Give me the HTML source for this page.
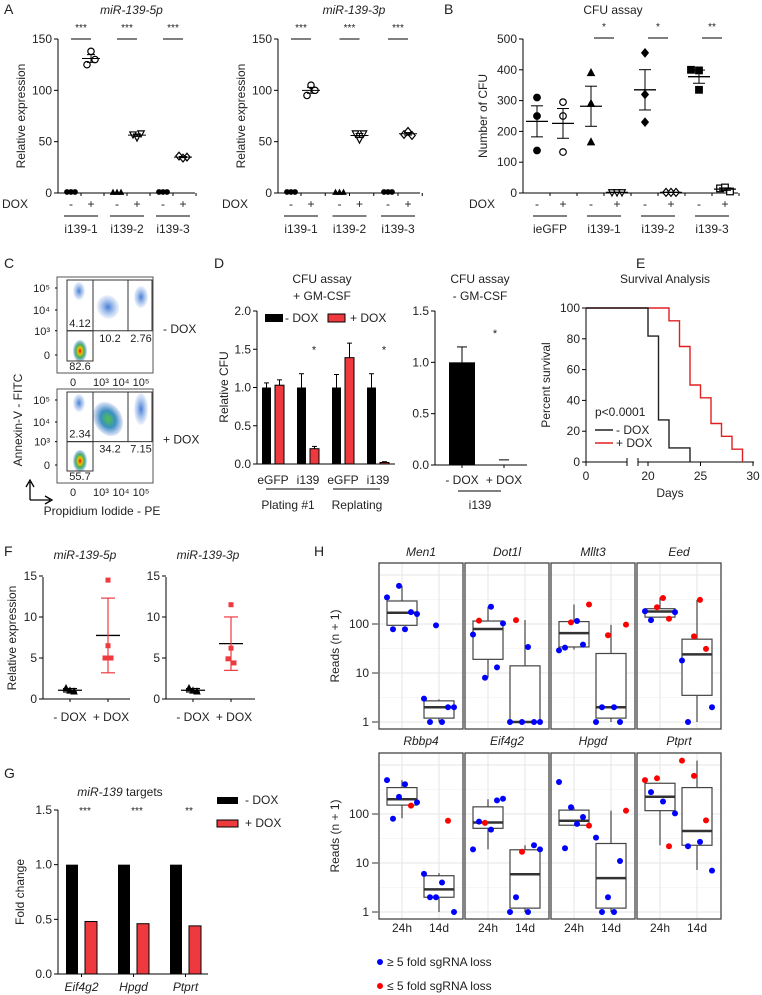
<!DOCTYPE html>
<html><head><meta charset="utf-8"><style>
html,body{margin:0;padding:0;background:#fff;}
svg{display:block;font-family:"Liberation Sans",Arial,sans-serif;}
</style></head><body>
<svg id="fig" width="762" height="995" viewBox="0 0 762 995" xmlns="http://www.w3.org/2000/svg">
<defs>
<radialGradient id="gHot" cx="50%" cy="50%" r="50%"><stop offset="0" stop-color="#e00000"/><stop offset="0.3" stop-color="#f0c000"/><stop offset="0.6" stop-color="#40b060"/><stop offset="1" stop-color="#3070d0" stop-opacity="0.2"/></radialGradient>
<radialGradient id="gGreen" cx="50%" cy="50%" r="50%"><stop offset="0" stop-color="#50c050"/><stop offset="0.5" stop-color="#3a90c0"/><stop offset="1" stop-color="#5080d0" stop-opacity="0.15"/></radialGradient>
<radialGradient id="gBlue" cx="50%" cy="50%" r="50%"><stop offset="0" stop-color="#3070d0" stop-opacity="0.9"/><stop offset="1" stop-color="#6090e0" stop-opacity="0.1"/></radialGradient>
</defs>
</svg>
<script>
// ---------- DATA ----------
const aGroups=['i139-1','i139-2','i139-3'];
const a5pMinus=[[1,1,1],[0.6,0.6,0.6],[1,1,1]];
const a5pPlus=[[125,138,130],[57,54,58],[36,34,35]];
const a3pMinus=[[1,1,1],[0.6,0.6,0.6],[1,1,1]];
const a3pPlus=[[95,105,100],[58,52,58],[57,60,56]];
const aStars=['***','***','***'];
const aTicks=[0,50,100,150];

const bGroups=['ieGFP','i139-1','i139-2','i139-3'];
const bMinus=[[310,250,138],[390,290,165],[455,320,230],[400,398,335]];
const bPlus=[[295,250,133],[2,2,2],[2,2,2],[15,18,5]];
const bStars=['','*','*','**'];
const bTicks=[0,100,200,300,400,500];

const dLabels=['eGFP','i139','eGFP','i139'];
const dMinus=[1,1,1,1];
const dMinusErr=[0.06,0.18,0.17,0.18];
const dPlus=[1.03,0.2,1.39,0.02];
const dPlusErr=[0.07,0.03,0.19,0.01];
const dStars=['','*','','*'];
const dTicks=[0,0.5,1,1.5,2];
const d2Labels=['- DOX','+ DOX'];
const d2Values=[1,0];
const d2Err=[0.15,0.05];
const d2Ticks=[0,0.5,1,1.5];

const eDaysMinus=[0,20,21,22,24];
const eSurvMinus=[100,81.8,27.3,9.1,0];
const eDaysPlus=[0,22,23,24,25,26,27,28,29];
const eSurvPlus=[100,91.7,75,50,41.7,25,16.7,8.3,0];
const eYTicks=[0,20,40,60,80,100];
const eXTicks=[0,20,25,30];

const f5pMinus=[1.3,1.0,0.9];
const f5pPlus=[14.5,6.5,5,5];
const f3pMinus=[1.3,1.0,0.9];
const f3pPlus=[11.5,6.2,4.9,4.4];
const fTicks=[0,5,10,15];

const gLabels=['Eif4g2','Hpgd','Ptprt'];
const gMinus=[1,1,1];
const gPlus=[0.48,0.46,0.44];
const gStars=['***','***','**'];
const gTicks=[0,0.5,1,1.5];

const hGenes=['Men1','Dot1l','Mllt3','Eed','Rbbp4','Eif4g2','Hpgd','Ptprt'];
const hBox24=[[94,170,295,94,600],[19,79,115,8,225],[34,65,112,30,250],[138,180,205,138,350],
 [152,200,346,82,490],[51,67,140,19,200],[59,73,120,59,137],[117,225,424,23,424]];
const hBox14=[[1.2,2,2.7,1,2.9],[1,1,14,1,120],[1.2,2,25,1,96],[3.5,24,49,1,310],
 [2,2.9,5.5,1,6.2],[1.2,5.9,18.6,1,23],[1.2,4.9,25,1,117],[23,45,346,7.2,1230]];
const hPts24=[
 [[350,'b'],[78,'b'],[600,'b'],[78,'b'],[175,'b'],[160,'b']],
 [[61,'b'],[117,'r'],[8,'b'],[225,'b'],[13,'b'],[103,'b']],
 [[29,'b'],[33,'b'],[108,'r'],[115,'b'],[38,'b'],[250,'r']],
 [[182,'b'],[120,'b'],[220,'r'],[340,'r'],[128,'r'],[175,'b']],
 [[490,'b'],[80,'b'],[223,'b'],[405,'b'],[148,'r'],[173,'b']],
 [[19,'b'],[70,'b'],[66,'r'],[48,'b'],[190,'b'],[205,'b']],
 [[450,'b'],[20,'b'],[137,'b'],[63,'b'],[87,'b'],[58,'r']],
 [[490,'r'],[280,'b'],[535,'r'],[180,'b'],[22,'r'],[103,'b']]];
const hPts14=[
 [[3,'b'],[1,'b'],[94,'b'],[1,'b'],[2,'b'],[2,'b']],
 [[1,'b'],[120,'r'],[1,'b'],[34,'b'],[1,'b'],[1,'b']],
 [[1,'b'],[2,'b'],[59,'r'],[2,'b'],[1,'b'],[97,'r']],
 [[18,'b'],[1,'b'],[56,'r'],[310,'r'],[31,'r'],[2,'b']],
 [[6,'b'],[2,'b'],[2,'b'],[4,'b'],[73,'r'],[1,'b']],
 [[1,'b'],[2,'b'],[17,'r'],[1,'b'],[23,'b'],[19,'b']],
 [[33,'b'],[1,'b'],[2,'b'],[1,'b'],[11,'b'],[117,'r']],
 [[1230,'r'],[22,'b'],[600,'r'],[27,'b'],[74,'r'],[7,'b']]];
const hTicks=[1,10,100];

// ---------- HELPERS ----------
const NS='http://www.w3.org/2000/svg';
const svg=document.getElementById('fig');
const RED='#ee3a3f';
function el(tag,a,name,p){
  const e=document.createElementNS(NS,tag);
  for(const k in a) e.setAttribute(k,a[k]);
  
  
  (p||svg).appendChild(e);return e;
}
function ln(x1,y1,x2,y2,name,c,w){return el('line',{x1,y1,x2,y2,stroke:c||'#000','stroke-width':w||1},name);}
function tx(x,y,s,name,o){
  o=o||{};
  const a={x,y,'font-size':o.size||12,'text-anchor':o.anchor||'middle',fill:o.fill||'#222'};
  if(o.italic)a['font-style']='italic';
  if(o.rot)a.transform='rotate(-90 '+x+' '+y+')';
  const t=el('text',a,name);t.textContent=s;return t;
}
function marker(shape,filled,x,y,r,name,col){
  col=col||'#000';
  const f=filled?col:'#fff';
  let pts;
  if(shape==='circle') return el('circle',{cx:x,cy:y,r,fill:f,stroke:col,'stroke-width':1.2},name);
  if(shape==='square') return el('rect',{x:x-r,y:y-r,width:2*r,height:2*r,fill:f,stroke:col,'stroke-width':1.2},name);
  if(shape==='tri') pts=[[x,y-r*1.1],[x+r,y+r*0.8],[x-r,y+r*0.8]];
  if(shape==='trid') pts=[[x,y+r*1.1],[x+r,y-r*0.8],[x-r,y-r*0.8]];
  if(shape==='diamond') pts=[[x,y-r*1.2],[x+r,y],[x,y+r*1.2],[x-r,y]];
  return el('polygon',{points:pts.map(p=>p.join(',')).join(' '),fill:f,stroke:col,'stroke-width':1.2},name);
}
const mean=a=>a.reduce((s,v)=>s+v,0)/a.length;
const sd=a=>{const m=mean(a);return Math.sqrt(a.reduce((s,v)=>s+(v-m)*(v-m),0)/(a.length-1));};
const sem=a=>sd(a)/Math.sqrt(a.length);

// ---------- PANEL LETTERS ----------
[['A',4,14],['B',444,14],['C',4,268],['D',214,268],['E',636,268],['F',4,556],['G',4,778],['H',314,556]].forEach(p=>{
  const t=tx(p[1],p[2],p[0],'panel-label-'+p[0].toLowerCase(),{size:14,anchor:'start'});
});

// ---------- PANEL A ----------
function panelA(ax,xEnd,title,minus,plus,c0,sp,key){
  const y=v=>193-v*154/150;
  tx((ax+xEnd)/2+5,14,title,'a-title-'+key,{italic:true,size:12});
  ln(ax,39,ax,193,'a-y-axis-'+key);
  ln(ax,193,xEnd,193,'a-x-axis-'+key);
  aTicks.forEach(t=>{ln(ax-4,y(t),ax,y(t),'a-y-tick');tx(ax-6,y(t)+4,String(t),'a-y-tick-label',{anchor:'end'});});
  tx(ax-33,116,'Relative expression','a-y-axis-title-'+key,{rot:true,size:12});
  tx(ax-30,208,'DOX','a-dox-label-'+key,{anchor:'end',size:12});
  const mShapes=['circle','tri','circle'],pShapes=['circle','trid','diamond'];
  aGroups.forEach((g,i)=>{
    const c=c0+i*sp,xm=c-10,xp=c+10;
    ln(c,193,c,196,'a-x-tick');ln(c+sp/2,193,c+sp/2,196,'a-x-tick');
    tx(xm,208,'-','a-dox-minus');tx(xp,208,'+','a-dox-plus');
    ln(c-17,216,c+17,216,'a-group-underline');
    tx(c,233,g,'a-group-label-'+g,{size:12});
    ln(c-10,39,c+10,39,'a-sig-line');
    tx(c,31,aStars[i],'a-sig-stars',{size:10});
    minus[i].forEach((v,j)=>marker(mShapes[i],true,xm+(j-1)*4,y(v),2.3,'a-point-minus'));
    plus[i].forEach((v,j)=>marker(pShapes[i],false,xp+(j-1)*4,y(v),3.2,'a-point-plus'));
    const m=mean(plus[i]),s=sem(plus[i]);
    ln(xp-9,y(m),xp+9,y(m),'a-mean-line');
    ln(xp,y(m-s),xp,y(m+s),'a-sem-bar');
    ln(xp-4,y(m-s),xp+4,y(m-s),'a-sem-cap');ln(xp-4,y(m+s),xp+4,y(m+s),'a-sem-cap');
  });
}
panelA(58,195,'miR-139-5p',a5pMinus,a5pPlus,81,46,'5p');
panelA(278,420,'miR-139-3p',a3pMinus,a3pPlus,301,48.5,'3p');

// ---------- PANEL B ----------
(function(){
  const ax=523,y=v=>193-v*0.308;
  tx(613,14,'CFU assay','b-title',{size:12});
  ln(ax,39,ax,193,'b-y-axis');ln(ax,193,738,193,'b-x-axis');
  bTicks.forEach(t=>{ln(ax-4,y(t),ax,y(t),'b-y-tick');tx(ax-6,y(t)+4,String(t),'b-y-tick-label',{anchor:'end'});});
  tx(487,116,'Number of CFU','b-y-axis-title',{rot:true,size:12});
  tx(482,208,'DOX','b-dox-label',{size:12});
  const mS=['circle','tri','diamond','square'],pS=['circle','trid','diamond','square'];
  bGroups.forEach((g,i)=>{
    const c=550+i*54,xm=c-13,xp=c+13;
    ln(c,193,c,196,'b-x-tick');ln(c+27,193,c+27,196,'b-x-tick');
    tx(xm,208,'-','b-dox-minus');tx(xp,208,'+','b-dox-plus');
    ln(c-17,216,c+17,216,'b-group-underline');
    tx(c,233,g,'b-group-label-'+g,{size:12});
    if(bStars[i]){ln(c-10,38,c+10,38,'b-sig-line');tx(c,30,bStars[i],'b-sig-stars',{size:10});}
    [[bMinus[i],xm,mS[i],true],[bPlus[i],xp,pS[i],false]].forEach(q=>{
      q[0].forEach((v,j)=>{const jit=v<30?(j-1)*5:(v>390&&i===3?(j-1)*8:0);marker(q[2],q[3],q[1]+jit,y(v),3.3,q[3]?'b-point-minus':'b-point-plus');});
      const m=mean(q[0]),s=sem(q[0]);
      ln(q[1]-11,y(m),q[1]+11,y(m),'b-mean-line',null,1.3);
      ln(q[1],y(m-s),q[1],y(m+s),'b-sem-bar');
      ln(q[1]-6,y(m-s),q[1]+6,y(m-s),'b-sem-cap');ln(q[1]-6,y(m+s),q[1]+6,y(m+s),'b-sem-cap');
    });
  });
})();

// ---------- PANEL C (flow cytometry) ----------
function flow(top,bot,labels,cond,key,hi){
  el('rect',{x:57,y:top,width:96,height:bot-top,fill:'#fff',stroke:'#555','stroke-width':1},'c-flow-frame-'+key);
  const gy=top+(bot-top)*0.56;
  // populations
  el('ellipse',{cx:79,cy:top+14,rx:6,ry:9,fill:'url(#gBlue)'},'c-pop-annexin-neg');
  el('ellipse',{cx:80,cy:bot-22,rx:7,ry:11,fill:'url(#gHot)'},'c-pop-live');
  el('ellipse',{cx:108,cy:top+30,rx:hi?14:11,ry:hi?18:12,fill:hi?'url(#gGreen)':'url(#gBlue)',transform:'rotate(-30 108 '+(top+30)+')'},'c-pop-early-apoptotic');
  el('ellipse',{cx:141,cy:top+20,rx:7,ry:hi?16:11,fill:'url(#gBlue)'},'c-pop-late-apoptotic');
  // gates
  [[67,top+3,26,gy-top-3],[67,gy,26,bot-gy-12],[93,top+3,35,gy-top-3],[128,top+3,24,gy-top-3]].forEach(r=>
    el('rect',{x:r[0],y:r[1],width:r[2],height:r[3],fill:'none',stroke:'#333','stroke-width':1},'c-gate'));
  tx(80,gy-4,labels[0],'c-gate-pct',{size:11});
  tx(110,gy+11,labels[1],'c-gate-pct',{size:11});
  tx(141,gy+11,labels[2],'c-gate-pct',{size:11});
  tx(80,bot-3,labels[3],'c-gate-pct',{size:11});
  const ys=[top+11,top+33,gy,bot-18];
  ['10⁵','10⁴','10³','0'].forEach((s,i)=>{tx(50,ys[i]+4,s,'c-y-tick-label',{anchor:'end',size:11});ln(55,ys[i],57,ys[i],'c-y-tick');});
  const xs=[73,101,121,141];
  ['0','10³','10⁴','10⁵'].forEach((s,i)=>tx(xs[i],bot+13,s,'c-x-tick-label',{size:11}));
  tx(163,(top+gy)/2+gy/2-top/2+2,cond,'c-condition-'+key,{anchor:'start',size:12});
}
flow(277,373,['4.12','10.2','2.76','82.6'],'- DOX','minus',false);
flow(389,483,['2.34','34.2','7.15','55.7'],'+ DOX','plus',true);
tx(22,420,'Annexin-V - FITC','c-y-axis-title',{rot:true,size:12});
tx(102,515,'Propidium Iodide - PE','c-x-axis-title',{size:12});
el('path',{d:'M30 500 L30 482 M26 487 L30 480 L34 487 M30 500 L50 500 M45 496 L52 500 L45 504',fill:'none',stroke:'#000','stroke-width':1.3},'c-axis-arrows');

// ---------- PANEL D ----------
(function(){
  const ax=257,y=v=>464-v*153/2;
  tx(322,283,'CFU assay','d-title-1',{size:12});tx(322,300,'+ GM-CSF','d-subtitle-1',{size:12});
  ln(ax,311,ax,464,'d-y-axis');ln(ax,464,395,464,'d-x-axis');
  dTicks.forEach(t=>{ln(ax-4,y(t),ax,y(t),'d-y-tick');tx(ax-6,y(t)+4,t.toFixed(1),'d-y-tick-label',{anchor:'end'});});
  tx(228,387,'Relative CFU','d-y-axis-title',{rot:true,size:12});
  el('rect',{x:265,y:314,width:18,height:8,fill:'#000'},'d-legend-swatch-minus');
  tx(285,322,'- DOX','d-legend-label-minus',{anchor:'start',size:12});
  el('rect',{x:328,y:314,width:17,height:8,fill:RED,stroke:'#000'},'d-legend-swatch-plus');
  tx(350,322,'+ DOX','d-legend-label-plus',{anchor:'start',size:12});
  dLabels.forEach((l,i)=>{
    const x0=262+i*35;
    el('rect',{x:x0,y:y(dMinus[i]),width:9,height:y(0)-y(dMinus[i]),fill:'#000'},'d-bar-minus');
    ln(x0+4.5,y(dMinus[i]),x0+4.5,y(dMinus[i]+dMinusErr[i]),'d-err');ln(x0+2,y(dMinus[i]+dMinusErr[i]),x0+7,y(dMinus[i]+dMinusErr[i]),'d-err-cap');
    const x1=x0+13;
    el('rect',{x:x1,y:y(dPlus[i]),width:9,height:y(0)-y(dPlus[i]),fill:RED,stroke:'#000','stroke-width':1},'d-bar-plus');
    ln(x1+4.5,y(dPlus[i]),x1+4.5,y(dPlus[i]+dPlusErr[i]),'d-err');ln(x1+2,y(dPlus[i]+dPlusErr[i]),x1+7,y(dPlus[i]+dPlusErr[i]),'d-err-cap');
    tx(x0+11,484,l,'d-x-label-'+l,{size:12});
    if(dStars[i]) tx(x0+17,y(1.5)+4,dStars[i],'d-sig-star',{size:11});
  });
  ln(266,489,314,489,'d-group-underline');ln(333,489,380,489,'d-group-underline');
  tx(288,509,'Plating #1','d-group-label-plating',{size:12});tx(357,509,'Replating','d-group-label-replating',{size:12});
  // right sub-panel
  const ax2=435,y2=v=>465-v*154/1.5;
  tx(480,283,'CFU assay','d-title-2',{size:12});tx(480,300,'- GM-CSF','d-subtitle-2',{size:12});
  ln(ax2,311,ax2,465,'d2-y-axis');ln(ax2,465,527,465,'d2-x-axis');
  d2Ticks.forEach(t=>{ln(ax2-4,y2(t),ax2,y2(t),'d2-y-tick');tx(ax2-6,y2(t)+4,t.toFixed(1),'d2-y-tick-label',{anchor:'end'});});
  d2Labels.forEach((l,i)=>{
    const c=462+i*42;
    if(d2Values[i]>0) el('rect',{x:c-13,y:y2(d2Values[i]),width:26,height:y2(0)-y2(d2Values[i]),fill:'#000'},'d2-bar-'+i);
    const t=y2(d2Values[i]+d2Err[i]);
    if(d2Values[i]>0) ln(c,y2(d2Values[i]),c,t,'d2-err');
    ln(c-5,t,c+5,t,'d2-err-cap');
    ln(c,465,c,468,'d2-x-tick');
    tx(c,484,l,'d2-x-label',{size:12});
  });
  tx(495,337,'*','d2-sig-star',{size:11});
  ln(458,491,501,491,'d2-group-underline');tx(480,509,'i139','d2-group-label',{size:12});
})();

// ---------- PANEL E ----------
(function(){
  const ax=586,y=v=>462-v*1.54;
  const x=d=>d<=15?586+d*(40/15):648+(d-20)*10.5;
  tx(665,283,'Survival  Analysis','e-title',{size:12});
  ln(ax,308,ax,462,'e-y-axis');
  ln(586,462,627,462,'e-x-axis-left');ln(638,462,754,462,'e-x-axis-right');
  ln(627,458,627,466,'e-axis-break');ln(638,458,638,466,'e-axis-break');
  eYTicks.forEach(t=>{ln(ax-4,y(t),ax,y(t),'e-y-tick');tx(ax-6,y(t)+4,String(t),'e-y-tick-label',{anchor:'end'});});
  eXTicks.forEach(t=>{ln(x(t),462,x(t),466,'e-x-tick');tx(x(t),480,String(t),'e-x-tick-label');});
  tx(670,497,'Days','e-x-axis-title',{size:12});
  tx(550,385,'Percent survival','e-y-axis-title',{rot:true,size:12});
  function step(days,surv,col,name){
    let d='M'+x(days[0])+' '+y(surv[0]);
    for(let i=1;i<days.length;i++){d+=' H'+x(days[i])+' V'+y(surv[i]);}
    el('path',{d,fill:'none',stroke:col,'stroke-width':1.4},name);
  }
  step(eDaysPlus,eSurvPlus,'#e02020','e-curve-plus-dox');
  step(eDaysMinus,eSurvMinus,'#222','e-curve-minus-dox');
  tx(595,416,'p<0.0001','e-pvalue',{anchor:'start',size:12});
  ln(595,430,613,430,'e-legend-line-minus','#222',1.4);tx(616,434,'- DOX','e-legend-label-minus',{anchor:'start',size:12});
  ln(595,443,613,443,'e-legend-line-plus','#e02020',1.4);tx(616,447,'+ DOX','e-legend-label-plus',{anchor:'start',size:12});
})();

// ---------- PANEL F ----------
function panelF(ax,xEnd,title,minus,plus,key){
  const y=v=>699-v*8.2;
  const xm=ax+27,xp=ax+65;
  tx(ax+42,559,title,'f-title-'+key,{italic:true,size:12});
  ln(ax,577,ax,699,'f-y-axis-'+key);ln(ax,699,xEnd,699,'f-x-axis-'+key);
  fTicks.forEach(t=>{ln(ax-4,y(t),ax,y(t),'f-y-tick');tx(ax-6,y(t)+4,String(t),'f-y-tick-label',{anchor:'end'});});
  ln(xm,699,xm,702,'f-x-tick');ln(xp,699,xp,702,'f-x-tick');
  tx(xm,721,'- DOX','f-x-label-minus',{size:12});tx(xp+3,721,'+ DOX','f-x-label-plus',{size:12});
  minus.forEach((v,j)=>marker('tri',true,xm+(j-1)*4,y(v),2.8,'f-point-minus'));
  plus.forEach((v,j)=>el('rect',{x:xp-2.5+(v<5.5?(j%2?3:-3):0),y:y(v)-2.5,width:5,height:5,fill:RED},'f-point-plus'));
  [[minus,xm,'#000'],[plus,xp,RED]].forEach(q=>{
    const m=mean(q[0]),s=sd(q[0]);
    ln(q[1]-12,y(m),q[1]+12,y(m),'f-mean-line','#000',1.3);
    ln(q[1],y(m-s),q[1],y(m+s),'f-sd-bar',q[2],1.2);
    ln(q[1]-7,y(m-s),q[1]+7,y(m-s),'f-sd-cap',q[2],1.2);ln(q[1]-7,y(m+s),q[1]+7,y(m+s),'f-sd-cap',q[2],1.2);
  });
}
panelF(43,130,'miR-139-5p',f5pMinus,f5pPlus,'5p');
panelF(166,255,'miR-139-3p',f3pMinus,f3pPlus,'3p');
tx(16,638,'Relative expression','f-y-axis-title',{rot:true,size:12});

// ---------- PANEL G ----------
(function(){
  const ax=58,y=v=>974-v*164/1.5;
  const t=el('text',{x:120,y:796,'font-size':12,'text-anchor':'middle',fill:'#222'},'g-title');
  const ts=document.createElementNS(NS,'tspan');ts.setAttribute('font-style','italic');ts.textContent='miR-139';t.appendChild(ts);
  t.appendChild(document.createTextNode(' targets'));
  ln(ax,810,ax,974,'g-y-axis');ln(ax,974,208,974,'g-x-axis');
  gTicks.forEach(v=>{ln(ax-4,y(v),ax,y(v),'g-y-tick');tx(ax-6,y(v)+4,v.toFixed(1),'g-y-tick-label',{anchor:'end'});});
  tx(24,892,'Fold change','g-y-axis-title',{rot:true,size:12});
  gLabels.forEach((l,i)=>{
    const x0=66+i*52;
    el('rect',{x:x0,y:y(gMinus[i]),width:12,height:y(0)-y(gMinus[i]),fill:'#000'},'g-bar-minus-'+l);
    el('rect',{x:x0+19,y:y(gPlus[i]),width:12,height:y(0)-y(gPlus[i]),fill:RED,stroke:'#000','stroke-width':1},'g-bar-plus-'+l);
    ln(x0+15.5,974,x0+15.5,977,'g-x-tick');
    tx(x0+15.5,991,l,'g-x-label-'+l,{italic:true,size:12});
    tx(x0+19,814,gStars[i],'g-sig-stars',{size:10});
  });
  el('rect',{x:217,y:797,width:21,height:7,fill:'#000'},'g-legend-swatch-minus');
  tx(245,804,'- DOX','g-legend-label-minus',{anchor:'start',size:12});
  el('rect',{x:217,y:820,width:21,height:7,fill:RED,stroke:'#000'},'g-legend-swatch-plus');
  tx(245,827,'+ DOX','g-legend-label-plus',{anchor:'start',size:12});
})();

// ---------- PANEL H ----------
(function(){
  const rows=[{top:563,bot:729,base:722,titleY:556},{top:753,bot:919,base:912,titleY:745}];
  const dec=49;
  rows.forEach((r,ri)=>{
    const yv=v=>r.base-Math.log10(v)*dec;
    hTicks.forEach(t=>{ln(372,yv(t),378,yv(t),'h-y-tick','#333');tx(369,yv(t)+4,String(t),'h-y-tick-label',{anchor:'end',size:12});});
    tx(339,(r.top+r.bot)/2,'Reads (n + 1)','h-y-axis-title',{rot:true,size:12});
    for(let c=0;c<4;c++){
      const gi=ri*4+c,left=379+c*86,w=84;
      el('rect',{x:left,y:r.top,width:w,height:r.bot-r.top,fill:'#fff'},'h-facet-bg');
      [0.5,1.5,2.5].forEach(l=>ln(left,r.base-l*dec,left+w,r.base-l*dec,'h-grid-minor','#f4f4f4',0.8));
      [0,1,2,3].forEach(l=>ln(left,r.base-l*dec,left+w,r.base-l*dec,'h-grid-major','#e6e6e6',1));
      const cx=[left+23,left+60];
      cx.forEach(x=>ln(x,r.top,x,r.bot,'h-grid-x','#e6e6e6',1));
      [[hBox24[gi],hPts24[gi],cx[0]],[hBox14[gi],hPts14[gi],cx[1]]].forEach(g=>{
        const b=g[0],x=g[2];
        ln(x,yv(b[2]),x,yv(b[4]),'h-whisker','#444',1.2);
        ln(x,yv(b[0]),x,yv(b[3]),'h-whisker','#444',1.2);
        el('rect',{x:x-15,y:yv(b[2]),width:30,height:Math.max(yv(b[0])-yv(b[2]),0.5),fill:'#fff',stroke:'#444','stroke-width':1.2},'h-box');
        ln(x-15,yv(b[1]),x+15,yv(b[1]),'h-median','#333',2.5);
        g[1].forEach((p,j)=>el('circle',{cx:x-15+j*6,cy:yv(p[0]),r:3,fill:p[1]==='r'?'#ff0000':'#0000ff'},p[1]==='r'?'h-point-red':'h-point-blue'));
      });
      el('rect',{x:left,y:r.top,width:w,height:r.bot-r.top,fill:'none',stroke:'#444','stroke-width':1.3},'h-facet-frame');
      tx(left+w/2,r.titleY,hGenes[gi],'h-facet-title-'+hGenes[gi],{italic:true,size:12});
      if(ri===1){tx(cx[0],932,'24h','h-x-label-24h',{size:12});tx(cx[1],932,'14d','h-x-label-14d',{size:12});}
    }
  });
  el('circle',{cx:380,cy:962,r:3,fill:'#0000ff'},'h-legend-dot-blue');
  tx(387,966,'≥ 5 fold sgRNA loss','h-legend-label-blue',{anchor:'start',size:12});
  el('circle',{cx:380,cy:986,r:3,fill:'#ff0000'},'h-legend-dot-red');
  tx(387,990,'≤ 5 fold sgRNA loss','h-legend-label-red',{anchor:'start',size:12});
})();
</script>
</body></html>
